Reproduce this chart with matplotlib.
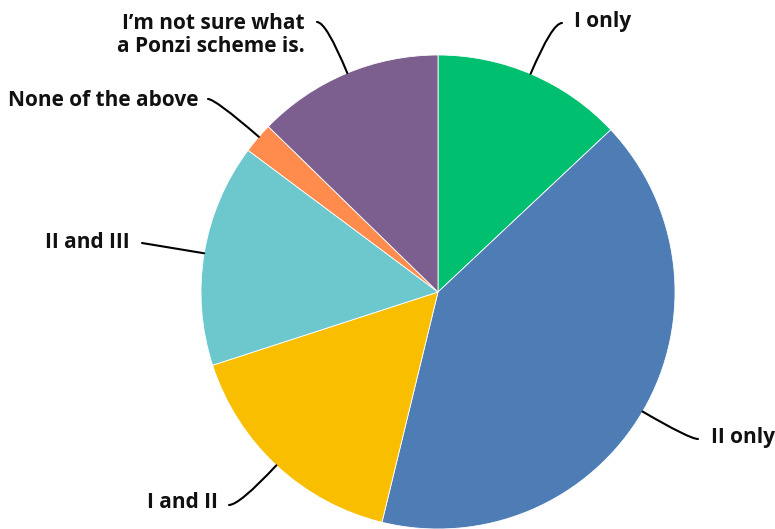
import matplotlib.pyplot as plt
import numpy as np

# survey answers, in percent
answers = ["I only", "II only", "I and II", "II and III",
           "None of the above", "I\u2019m not sure what\na Ponzi scheme is."]
shares = [13.0, 40.8, 16.2, 15.2, 2.1, 12.7]
colors = ["#00BF6F", "#4E7DB6", "#F9BE00", "#6CC8CC", "#FF8C4D", "#7C5E8F"]

plt.rcParams['font.family'] = ['Open Sans', 'DejaVu Sans']

W, H = 775, 529
fig = plt.figure(figsize=(W / 100, H / 100), dpi=100)
ax = fig.add_axes([0, 0, 1, 1])

cx, cy, r = 438, 237, 237
ax.pie(shares, colors=colors, startangle=90, counterclock=False,
       center=(cx, cy), radius=r, frame=True,
       wedgeprops=dict(edgecolor='white', linewidth=0.6))
ax.set_xlim(0, W)
ax.set_ylim(0, H)
ax.set_aspect('equal')
ax.axis('off')

# where each leader touches the rim (deg), where its text sits, alignment
rim_angle = [67, -30.3, -133, 170.6, 139.1, 112.5]
text_pos = [(574, 507), (711, 91), (218, 27), (130, 287), (198, 429), (305, 494)]
line_end = [(562, 506), (698, 90), (229, 24), (142, 286), (208, 430), (317, 507)]
align = ['left', 'left', 'right', 'right', 'right', 'right']

for lab, ang, tp, le, ha in zip(answers, rim_angle, text_pos, line_end, align):
    a = np.deg2rad(ang)
    px, py = cx + r * np.cos(a), cy + r * np.sin(a)
    if abs(np.sin(a)) < 0.3:
        style = "arc3,rad=0"
    else:
        style = f"angle3,angleA=0,angleB={ang}"
    ax.annotate("", xy=(px, py), xytext=le,
                arrowprops=dict(arrowstyle='-', color='black', lw=1.5,
                                shrinkA=0, shrinkB=0, connectionstyle=style))
    ax.text(tp[0], tp[1], lab, ha=ha, va='center', fontsize=15,
            fontweight='bold', color='#111111', linespacing=1.1)

fig.savefig("out.png", dpi=100)
